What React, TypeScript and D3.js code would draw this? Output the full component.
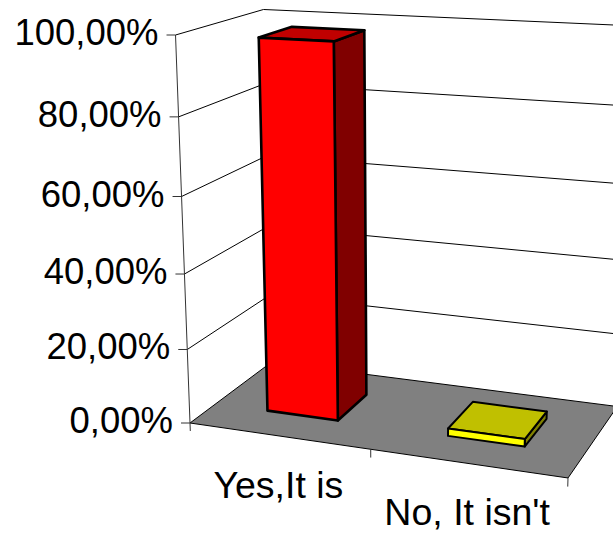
import React from "react";
import * as d3 from "d3";

// ---- data ----
const categories: string[] = ["Yes,It is", "No, It isn't"];
const values: number[] = [0.98, 0.02];
const yTicks: number[] = [0, 0.2, 0.4, 0.6, 0.8, 1.0];

// ---- styles ----
const frontColors = ["#FF0000", "#FFFF00"];
const topColors = ["#C00000", "#C0C000"];
const sideColors = ["#800000", "#808000"];
const FLOOR_FILL = "#808080";

// ---- perspective layout (screen anchors + vanishing points) ----
const W = 613;
const H = 534;
const ORIGIN: [number, number] = [190, 423]; // front-left floor corner
const VP_X: [number, number] = [-3929, -176];
const VP_Y: [number, number] = [398, 6000];
const VP_Z: [number, number] = [1048, -218];
const END_X_SCREEN_X = 568; // front-right floor corner x
const END_Y_SCREEN_Y = 35; // top of front-left value axis y
const END_Z_SCREEN_X = 271.4; // back-left floor corner x

const lx = (END_X_SCREEN_X - ORIGIN[0]) / (VP_X[0] - END_X_SCREEN_X);
const ly = (END_Y_SCREEN_Y - ORIGIN[1]) / (VP_Y[1] - END_Y_SCREEN_Y);
const lz = (END_Z_SCREEN_X - ORIGIN[0]) / (VP_Z[0] - END_Z_SCREEN_X);

function project(X: number, Y: number, Z: number): [number, number] {
  const hx = lx * X * VP_X[0] + ly * Y * VP_Y[0] + lz * Z * VP_Z[0] + ORIGIN[0];
  const hy = lx * X * VP_X[1] + ly * Y * VP_Y[1] + lz * Z * VP_Z[1] + ORIGIN[1];
  const w = lx * X + ly * Y + lz * Z + 1;
  return [hx / w, hy / w];
}

const xScale = d3.scaleBand<string>().domain(categories).range([0, 1]).paddingInner(0.6).paddingOuter(0.3);
const yScale = d3.scaleLinear().domain([0, 1]).range([0, 1]);
const Z_FRONT = 0.3;
const Z_BACK = 0.7;

const locale = d3.formatLocale({ decimal: ",", thousands: ".", grouping: [3], currency: ["", ""], percent: "%" } as any);
const fmt = locale.format(".2%");

const poly = (pts: [number, number][]) => "M" + pts.map((p) => p[0].toFixed(2) + "," + p[1].toFixed(2)).join("L") + "Z";
const line = d3.line<[number, number]>();

export default function App() {
  const FONT = "'Liberation Sans', Arial, sans-serif";
  const floor = poly([project(0, 0, 0), project(1, 0, 0), project(1, 0, 1), project(0, 0, 1)]);

  return (
    <svg width={W} height={H} style={{ position: "absolute", left: 0, top: 0, background: "#fff" }}>
      {/* gridlines on left wall and back wall */}
      {yTicks.filter((t) => t > 0).map((t, i) => (
        <g key={"g" + i}>
          <path d={line([project(0, yScale(t), 0), project(0, yScale(t), 1)]) || ""} stroke="#000" strokeWidth={1} fill="none" />
          <path d={line([project(0, yScale(t), 1), project(1, yScale(t), 1)]) || ""} stroke="#000" strokeWidth={1} fill="none" />
        </g>
      ))}
      {/* floor */}
      <path d={floor} fill={FLOOR_FILL} stroke="#000" strokeWidth={1} />
      {/* category ticks */}
      {[0.5, 1].map((x, i) => (
        <path key={"ct" + i} d={line([project(x, 0, 0), project(x, -0.022, 0)]) || ""} stroke="#333" strokeWidth={1} />
      ))}
      {/* bars */}
      {categories.map((c, i) => {
        const x0 = xScale(c) as number;
        const x1 = x0 + xScale.bandwidth();
        const v = yScale(values[i]);
        const front = poly([project(x0, 0, Z_FRONT), project(x1, 0, Z_FRONT), project(x1, v, Z_FRONT), project(x0, v, Z_FRONT)]);
        const top = poly([project(x0, v, Z_FRONT), project(x1, v, Z_FRONT), project(x1, v, Z_BACK), project(x0, v, Z_BACK)]);
        const side = poly([project(x1, 0, Z_FRONT), project(x1, 0, Z_BACK), project(x1, v, Z_BACK), project(x1, v, Z_FRONT)]);
        const sw = i === 0 ? 2.6 : 2;
        return (
          <g key={"b" + i} stroke="#000" strokeWidth={sw} strokeLinejoin="round">
            <path d={side} fill={sideColors[i]} />
            <path d={top} fill={topColors[i]} />
            <path d={front} fill={frontColors[i]} />
          </g>
        );
      })}
      {/* value axis */}
      <path d={line([project(0, 1, 0), project(0, -0.022, 0)]) || ""} stroke="#333" strokeWidth={1} fill="none" />
      {yTicks.map((t, i) => {
        const [ax, ay] = project(0, yScale(t), 0);
        return (
          <g key={"yt" + i}>
            <line x1={ax - 9} x2={ax} y1={ay} y2={ay} stroke="#333" strokeWidth={1} />
            <text x={ax - 17} y={ay + 10} textAnchor="end" fontFamily={FONT} fontSize={36.5} fill="#000">
              {fmt(t)}
            </text>
          </g>
        );
      })}
      {/* category labels */}
      {categories.map((c, i) => {
        const xc = (xScale(c) as number) + xScale.bandwidth() / 2;
        const [px, py] = project(xc, 0, 0);
        return (
          <text key={"cl" + i} x={px} y={py + 62} textAnchor="middle" fontFamily={FONT} fontSize={37.5} fill="#000">
            {c}
          </text>
        );
      })}
    </svg>
  );
}
